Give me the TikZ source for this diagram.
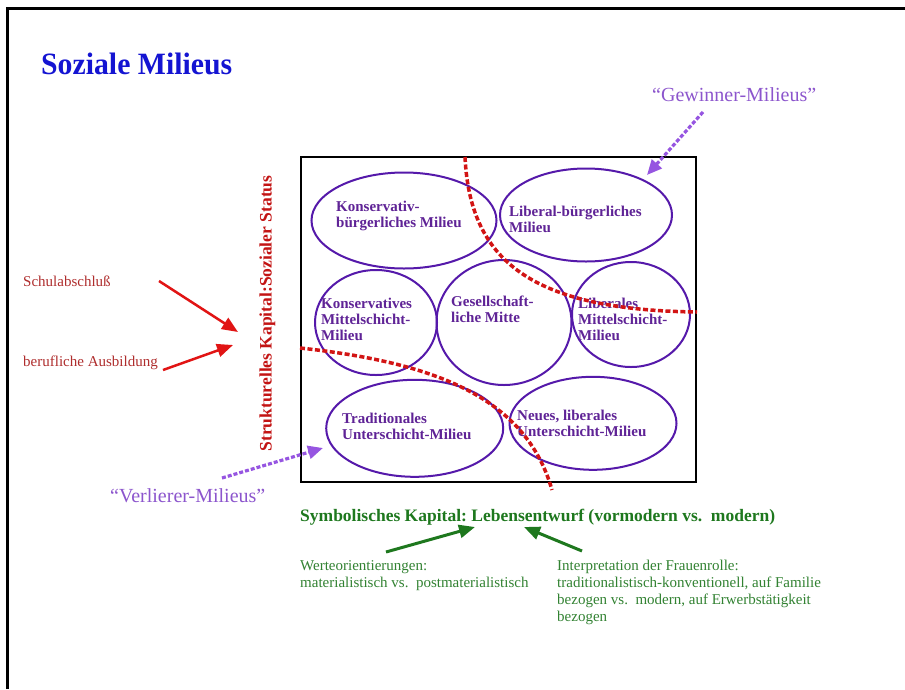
\documentclass[tikz,border=0pt]{standalone}
\usepackage{fontspec}
\setmainfont{Liberation Serif}
\usetikzlibrary{shapes.geometric,arrows.meta}
\definecolor{titleblue}{RGB}{20,20,210}
\definecolor{milieu}{RGB}{85,25,170}
\definecolor{milieutext}{RGB}{95,35,150}
\definecolor{cutred}{RGB}{210,20,20}
\definecolor{arrred}{RGB}{225,20,20}
\definecolor{labred}{RGB}{175,45,45}
\definecolor{axisred}{RGB}{195,20,20}
\definecolor{winpurple}{RGB}{150,85,225}
\definecolor{wintext}{RGB}{140,85,205}
\definecolor{symgreen}{RGB}{30,120,30}
\definecolor{txtgreen}{RGB}{50,130,50}
\newcommand{\mlines}[1]{\begin{tabular}[t]{@{}l@{}}#1\end{tabular}}
\frenchspacing
\begin{document}
\begin{tikzpicture}[x=1pt,y=-1pt,
  milieu/.style={ellipse, draw=milieu, line width=2pt, inner sep=0pt},
  mtext/.style={anchor=base west, inner sep=0pt, text=milieutext, font=\fontsize{15}{16}\selectfont\bfseries},
  cut/.style={draw=cutred, line width=3.5pt, dash pattern=on 5pt off 2.5pt},
  winarrow/.style={draw=winpurple, line width=3.2pt, dash pattern=on 4pt off 2pt, -{Triangle[length=15pt,width=13pt]}},
  redarrow/.style={draw=arrred, line width=2.5pt, -{Triangle[length=16pt,width=13pt]}},
  greenarrow/.style={draw=symgreen, line width=3pt, -{Triangle[length=16pt,width=13pt]}},
  plain/.style={anchor=base west, inner sep=0pt},
  small/.style={plain, font=\fontsize{15}{17}\selectfont}
]
\useasboundingbox (0,0) rectangle (905,689);
\fill[white] (0,0) rectangle (905,689);
% outer frame
\draw[line width=3pt, black] (7.5,689) -- (7.5,8.5) -- (905,8.5);

% title
\node[plain, font=\fontsize{31}{36}\selectfont\bfseries, text=titleblue, xscale=0.96] (title) at (41,74) {Soziale Milieus};

% main box
\node[draw=black, line width=2.5pt, minimum width=395pt, minimum height=325pt, inner sep=0pt] (box) at (498.5,319.5) {};

% milieus
\node[milieu, minimum width=185pt, minimum height=96pt] (e1) at (404,220.5) {};
\node[milieu, minimum width=172pt, minimum height=93pt] (e2) at (586,215) {};
\node[milieu, minimum width=122pt, minimum height=105pt] (e3) at (376,322.5) {};
\node[milieu, minimum width=135pt, minimum height=125pt] (e4) at (504,322.5) {};
\node[milieu, minimum width=118pt, minimum height=105pt] (e5) at (631,314.5) {};
\node[milieu, minimum width=177pt, minimum height=97pt] (e6) at (414.7,428.3) {};
\node[milieu, minimum width=167pt, minimum height=93pt] (e7) at (593,423.3) {};

\node[mtext] (t1) at (336,211) {\mlines{Konservativ-\\bürgerliches Milieu}};
\node[mtext] (t2) at (509,216) {\mlines{Liberal-bürgerliches\\Milieu}};
\node[mtext] (t3) at (321,308) {\mlines{Konservatives\\Mittelschicht-\\Milieu}};
\node[mtext] (t4) at (451,306.5) {\mlines{Gesellschaft-\\liche Mitte}};
\node[mtext] (t5) at (578,308) {\mlines{Liberales\\Mittelschicht-\\Milieu}};
\node[mtext] (t6) at (342,423) {\mlines{Traditionales\\Unterschicht-Milieu}};
\node[mtext] (t7) at (517,420) {\mlines{Neues, liberales\\Unterschicht-Milieu}};

% red dividing curves
\draw[cut] (465,157) .. controls (470,260) and (530,310) .. (697,312);
\draw[cut] (300,348) .. controls (430,362) and (525,395) .. (552,490);

% winners / losers
\node[plain, font=\fontsize{20}{24}\selectfont, text=wintext] (win) at (652,101) {“Gewinner-Milieus”};
\node[plain, font=\fontsize{20}{24}\selectfont, text=wintext] (lose) at (110,502) {“Verlierer-Milieus”};
\coordinate (ws) at (703,112);
\coordinate (we) at (647,175);
\coordinate (ls) at (222,478);
\coordinate (le) at (323,448);
\draw[winarrow] (ws) -- (we);
\draw[winarrow] (ls) -- (le);

% structural capital
\node[rotate=90, anchor=base, inner sep=0pt, font=\fontsize{17.5}{20}\selectfont\bfseries, text=axisred] (axis) at (271.5,313.5) {Strukturelles Kapital:Sozialer Status};
\node[small, text=labred] (schule) at (23,286) {Schulabschluß};
\node[small, text=labred] (beruf) at (23,366) {berufliche Ausbildung};
\coordinate (rs1) at (159,281);
\coordinate (re1) at (238,332);
\coordinate (rs2) at (163,370);
\coordinate (re2) at (233,345);
\draw[redarrow] (rs1) -- (re1);
\draw[redarrow] (rs2) -- (re2);

% symbolic capital
\node[plain, font=\fontsize{17.5}{20}\selectfont\bfseries, text=symgreen] (sym) at (300,521) {Symbolisches Kapital: Lebensentwurf (vormodern vs.\ \ modern)};
\node[small, text=txtgreen] (werte) at (300,570) {\mlines{Werteorientierungen:\\materialistisch vs.\ \ postmaterialistisch}};
\node[small, text=txtgreen] (frau) at (557,570) {\mlines{Interpretation der Frauenrolle:\\traditionalistisch-konventionell, auf Familie\\bezogen vs.\ \ modern, auf Erwerbstätigkeit\\bezogen}};
\coordinate (gs1) at (386,552);
\coordinate (ge1) at (475,527);
\coordinate (gs2) at (582,551);
\coordinate (ge2) at (524,527);
\draw[greenarrow] (gs1) -- (ge1);
\draw[greenarrow] (gs2) -- (ge2);
\end{tikzpicture}
\end{document}
